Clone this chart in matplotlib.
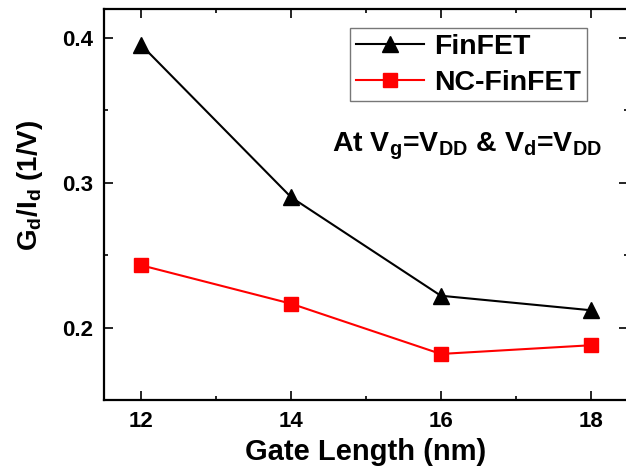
import matplotlib
matplotlib.use("Agg")
import matplotlib.pyplot as plt
from matplotlib.ticker import MultipleLocator

gate_length = [12, 14, 16, 18]
finfet = [0.395, 0.290, 0.222, 0.212]
nc_finfet = [0.243, 0.2165, 0.1818, 0.1878]

plt.rcParams['font.family'] = ['Liberation Sans', 'DejaVu Sans']
plt.rcParams['font.weight'] = 'bold'
plt.rcParams['mathtext.fontset'] = 'custom'
plt.rcParams['mathtext.rm'] = 'Liberation Sans:bold'
plt.rcParams['mathtext.it'] = 'Liberation Sans:bold'
plt.rcParams['mathtext.bf'] = 'Liberation Sans:bold'

fig = plt.figure(figsize=(6.26, 4.71), dpi=100)
ax = fig.add_axes([104/626, 1-400/471, (628-104)/626, (400-9)/471])

ax.plot(gate_length, finfet, color='black', lw=1.5, marker='^', ms=11, label='FinFET')
ax.plot(gate_length, nc_finfet, color='red', lw=1.5, marker='s', ms=9.5, label='NC-FinFET')

ax.set_xlim(11.5, 18.5)
ax.set_ylim(0.15, 0.42)
ax.xaxis.set_major_locator(MultipleLocator(2))
ax.xaxis.set_minor_locator(MultipleLocator(1))
ax.yaxis.set_major_locator(MultipleLocator(0.1))
ax.yaxis.set_minor_locator(MultipleLocator(0.05))
ax.tick_params(which='both', direction='in', top=True, right=True, width=1.2)
ax.tick_params(which='major', length=6.5, labelsize=16, pad=8)
ax.tick_params(which='minor', length=3)
for s in ax.spines.values():
    s.set_linewidth(1.6)
for lab in ax.get_xticklabels() + ax.get_yticklabels():
    lab.set_fontweight('bold')

ax.set_xlabel('Gate Length (nm)', fontsize=21, fontweight='bold', labelpad=4)
ax.set_ylabel(r'G$_{d}$/I$_{d}$ (1/V)', fontsize=20, fontweight='bold')
ax.yaxis.set_label_coords(-0.112, (400-185)/391)

leg = ax.legend(loc='upper left', bbox_to_anchor=((350-104)/524, (400-28)/391),
                fontsize=20.5, frameon=True, fancybox=False, edgecolor='#555555',
                handlelength=2.4, borderpad=0.2, labelspacing=0.35, handletextpad=0.35,
                borderaxespad=0)
leg.get_frame().set_linewidth(1.0)
for t in leg.get_texts():
    t.set_fontweight('bold')

ax.text((332-104)/524, (400-152)/391, r'At V$_{g}$=V$_{DD}$ & V$_{d}$=V$_{DD}$',
        transform=ax.transAxes, fontsize=20.5, fontweight='bold', ha='left', va='baseline')

fig.savefig('out.png', dpi=100)
